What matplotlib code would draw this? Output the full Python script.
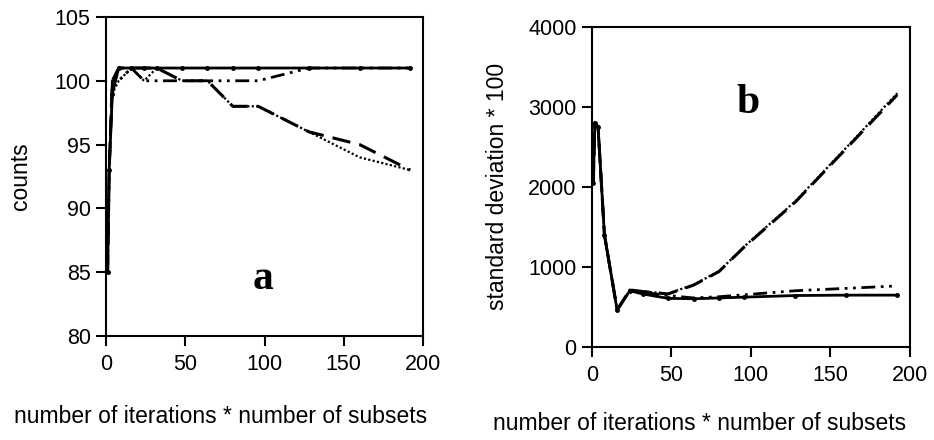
import numpy as np
import matplotlib
matplotlib.use("Agg")
import matplotlib.pyplot as plt

plt.rcParams['font.family'] = ['Liberation Sans', 'DejaVu Sans']

# iterations * subsets
x_vals = [1, 2, 4, 8, 16, 24, 32, 48, 64, 80, 96, 128, 160, 192]

# panel a: counts
counts_solid = [85, 93, 99, 101, 101, 101, 101, 101, 101, 101, 101, 101, 101, 101]
counts_dashdot = [85, 93, 100, 100, 101, 100, 100, 100, 100, 100, 100, 101, 101, 101]
counts_dashed = [85, 93, 100, 101, 101, 101, 101, 100, 100, 98, 98, 96, 95, 93]
counts_dotted = [85, 93, 99, 100, 101, 100, 101, 100, 100, 98, 98, 96, 94, 93]

# panel b: standard deviation * 100
sd_solid = [2050, 2800, 2750, 1400, 460, 700, 660, 605, 600, 610, 620, 640, 645, 645]
sd_dashdot = [2050, 2800, 2750, 1400, 460, 710, 680, 640, 610, 625, 650, 700, 730, 760]
sd_dashed = [2050, 2800, 2750, 1400, 460, 710, 690, 660, 770, 940, 1250, 1810, 2480, 3150]
sd_dotted = [2050, 2800, 2750, 1400, 460, 710, 690, 665, 775, 945, 1255, 1820, 2490, 3170]

XLABEL = "number of iterations * number of subsets"

fig = plt.figure(figsize=(9.34, 4.4), dpi=100)
ax_a = fig.add_axes([0.1135, 0.2364, 0.3394, 0.725])
ax_b = fig.add_axes([0.6335, 0.212, 0.3408, 0.727])

styles = [
    dict(ls='-', lw=2.0, marker='o', ms=2.5),
    dict(ls=(0, (5, 2, 1, 2, 1, 2)), lw=2.0),
    dict(ls=(0, (6, 3)), lw=2.2),
    dict(ls=(0, (1, 1)), lw=1.6),
]

for ax, series in [(ax_a, [counts_solid, counts_dashdot, counts_dashed, counts_dotted]),
                   (ax_b, [sd_solid, sd_dashdot, sd_dashed, sd_dotted])]:
    for y, st in zip(series, styles):
        ax.plot(x_vals, y, color='black', **st)
    for sp in ax.spines.values():
        sp.set_linewidth(1.5)
    ax.tick_params(direction='out', length=7, width=1.5, labelsize=15.5,
                   top=False, right=False)
    ax.tick_params(axis='x', pad=6)
    ax.tick_params(axis='y', pad=4)
    ax.set_xlim(0, 200)
    ax.set_xticks([0, 50, 100, 150, 200])

ax_a.set_ylim(80, 105)
ax_a.set_yticks([80, 85, 90, 95, 100, 105])
ax_a.set_ylabel("counts", fontsize=16.5, labelpad=16)
ax_a.set_xlabel(XLABEL, fontsize=16.5)
ax_a.xaxis.set_label_coords(0.36, -0.216)
ax_a.text(99, 84.5, "a", family=['Liberation Serif', 'DejaVu Serif'],
          fontweight='bold', fontsize=30, ha='center', va='center')

ax_b.set_ylim(0, 4000)
ax_b.set_yticks([0, 1000, 2000, 3000, 4000])
ax_b.set_ylabel("standard deviation * 100", fontsize=16.5, labelpad=14)
ax_b.set_xlabel(XLABEL, fontsize=16.5)
ax_b.xaxis.set_label_coords(0.34, -0.204)
ax_b.text(98, 3050, "b", family=['Liberation Serif', 'DejaVu Serif'],
          fontweight='bold', fontsize=30, ha='center', va='center')

fig.savefig("out.png", dpi=100)
